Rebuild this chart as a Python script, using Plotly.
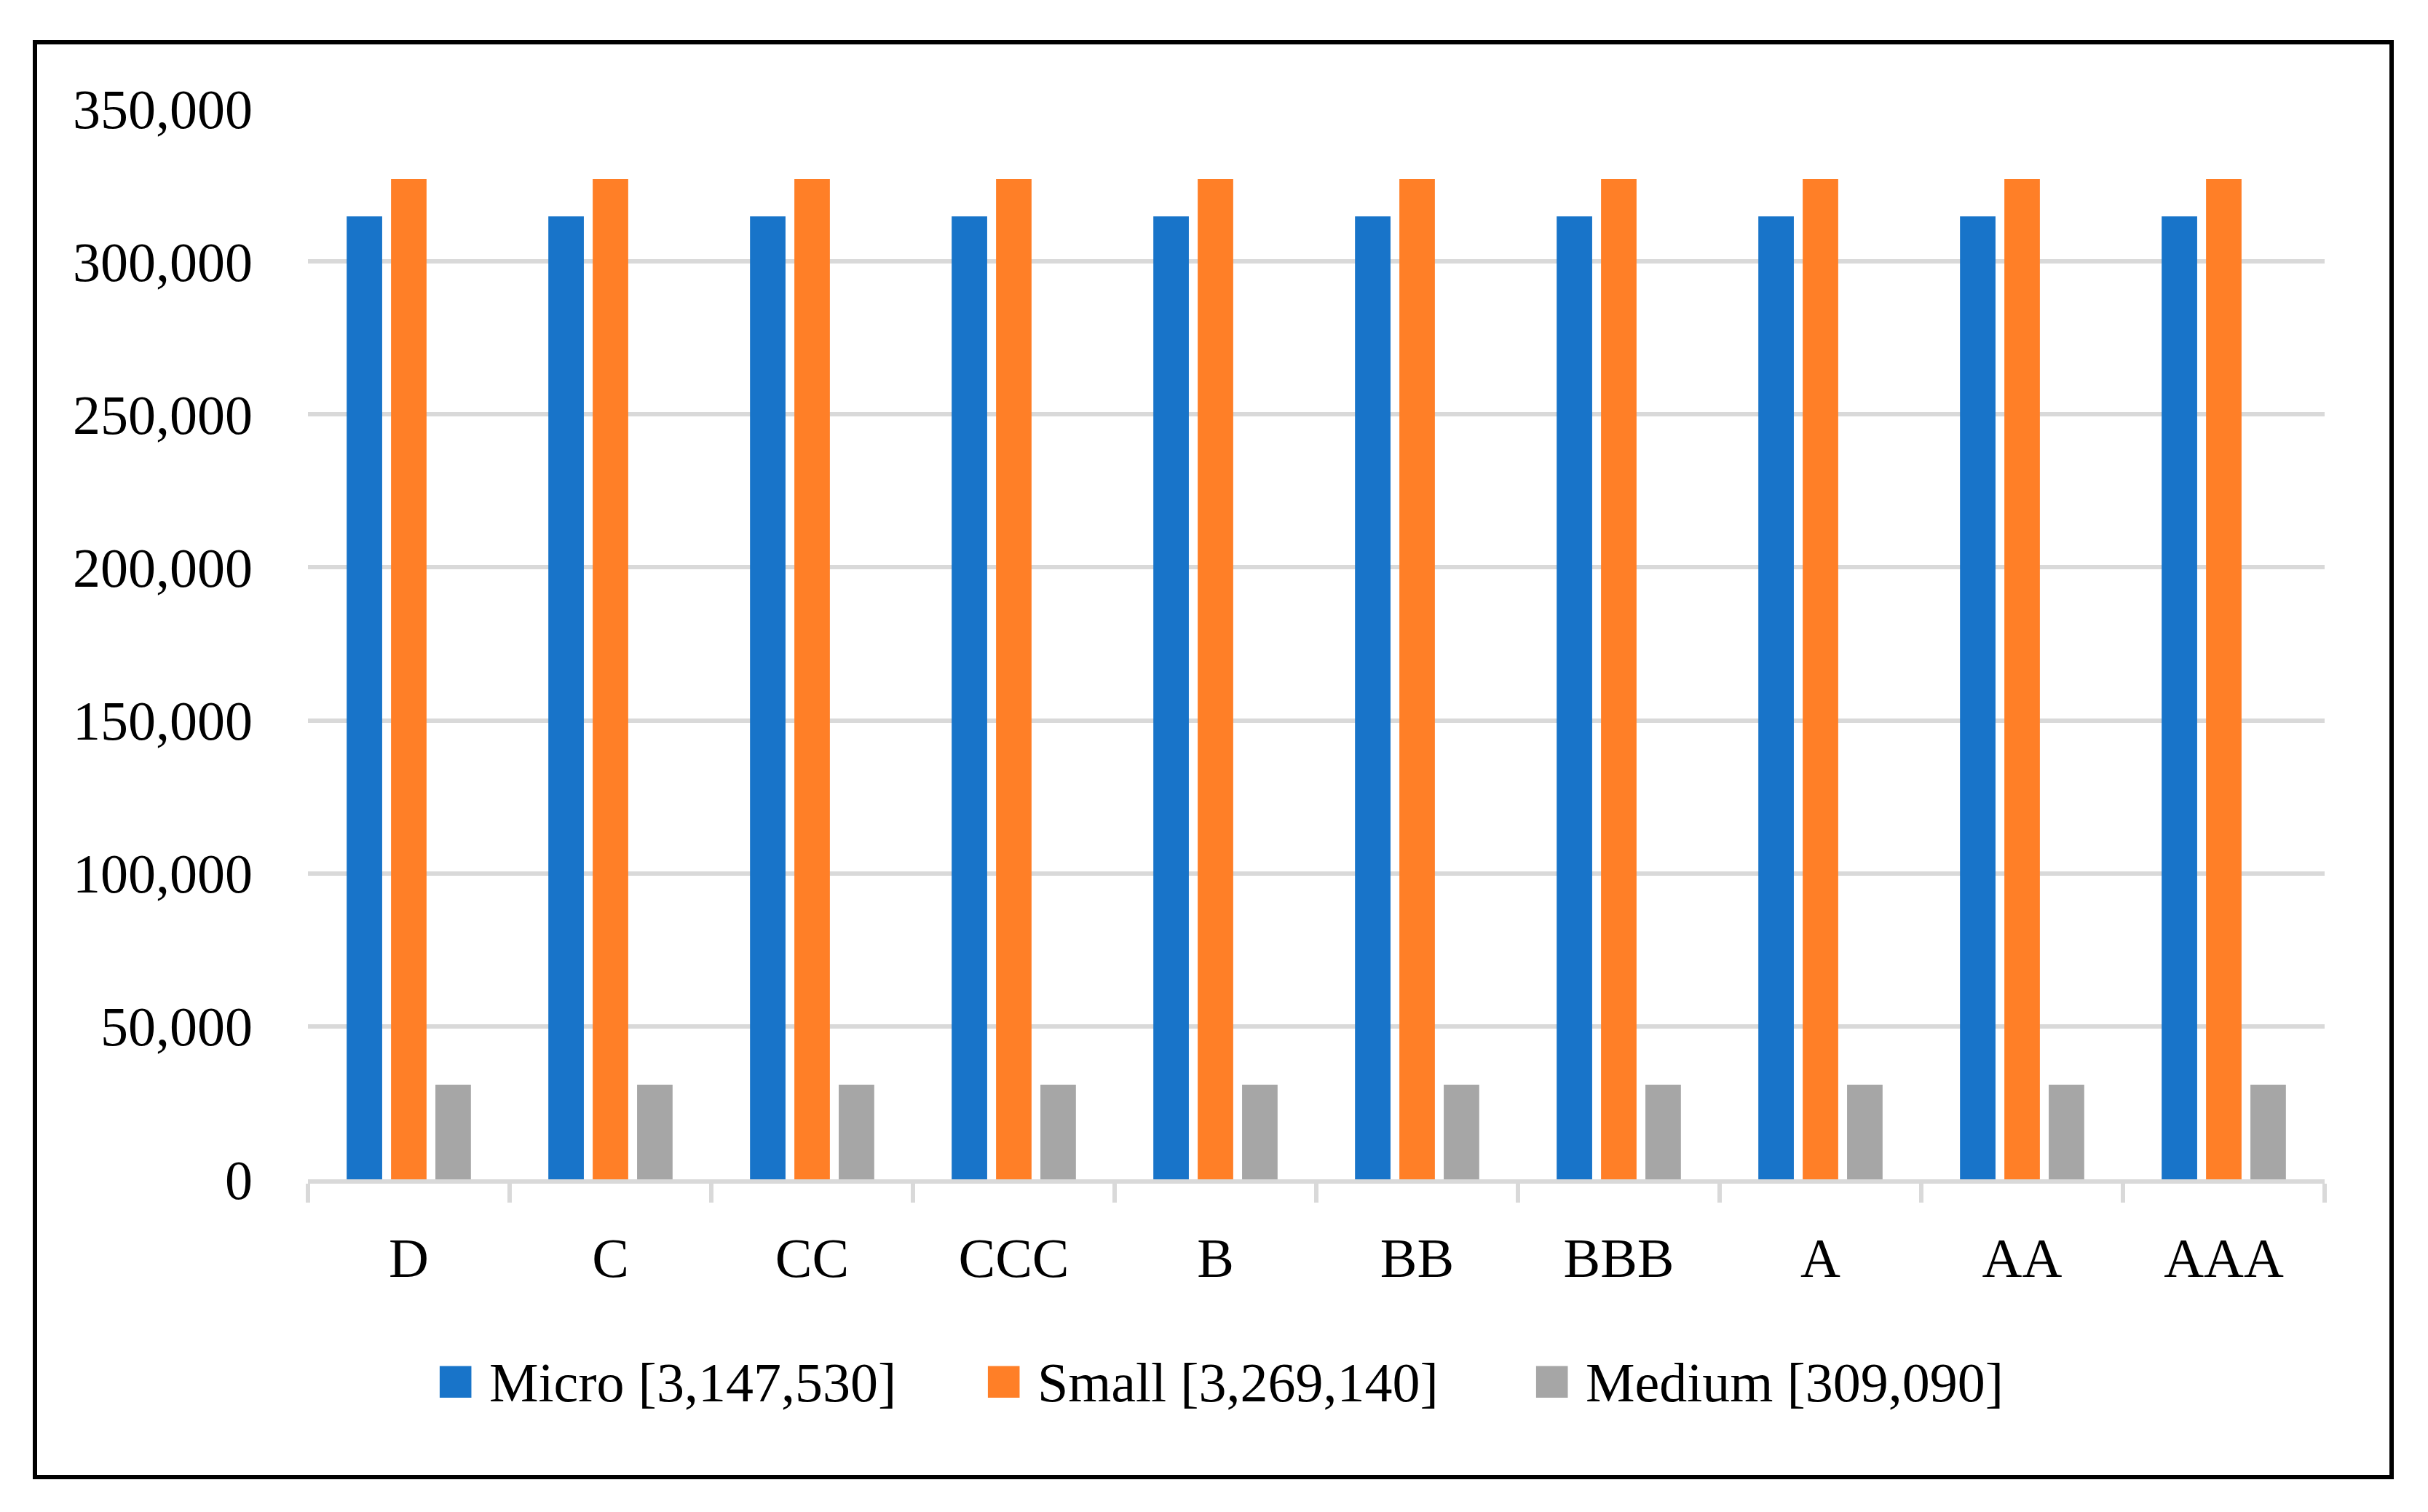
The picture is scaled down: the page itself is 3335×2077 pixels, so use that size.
import plotly.graph_objects as go

categories = ["D", "C", "CC", "CCC", "B", "BB", "BBB", "A", "AA", "AAA"]
micro = [314753, 314753, 314753, 314753, 314753, 314753, 314753, 314753, 314753, 314753]
small = [326914, 326914, 326914, 326914, 326914, 326914, 326914, 326914, 326914, 326914]
medium = [30909, 30909, 30909, 30909, 30909, 30909, 30909, 30909, 30909, 30909]
series_names = ["Micro [3,147,530]", "Small [3,269,140]", "Medium [309,090]"]
y_ticks = [0, 50000, 100000, 150000, 200000, 250000, 300000, 350000]

colors = ["#1874C9", "#FF7F27", "#A6A6A6"]
FONT = "Liberation Serif"
FS = 76

# page has an 8px body margin; figure is sized to fit inside it
OFF = 8
W, H = 3335 - 2 * OFF, 2077 - 2 * OFF
PX0, PX1, PY0, PY1 = 423 - OFF, 3193 - OFF, 149 - OFF, 1620 - OFF  # plot area in figure px
L, R, T, B = PX0, W - PX1, PY0, H - PY1
PW, PH = PX1 - PX0, PY1 - PY0

def px_x(x):
    return (x - OFF - PX0) / PW

def px_y(y):
    return (PY1 - (y - OFF)) / PH

fig = go.Figure()
for name, vals, col in zip(series_names, [micro, small, medium], colors):
    fig.add_trace(go.Bar(x=categories, y=vals, name=name, showlegend=False,
                         marker=dict(color=col, line=dict(width=0))))
# legend entries with a large coloured square (Excel-style)
for name, col in zip(series_names, colors):
    fig.add_trace(go.Scatter(x=[None], y=[None], mode="markers",
                             marker=dict(size=1, color="rgba(0,0,0,0)"),
                             name=f'<span style="color:{col};font-size:90px">■</span> {name}',
                             hoverinfo="skip"))

fig.update_layout(
    width=W, height=H,
    margin=dict(l=L, r=R, t=T, b=B, pad=0),
    paper_bgcolor="white", plot_bgcolor="white",
    barmode="group", bargap=0.34, bargroupgap=0.2,
    font=dict(family=FONT, size=FS, color="black"),
    showlegend=True,
    legend=dict(orientation="h", x=0.5 - (1808 - 1688) / 2770, xanchor="center",
                y=px_y(1895), yanchor="middle",
                font=dict(family=FONT, size=FS, color="black"),
                entrywidth=708, entrywidthmode="pixels", itemwidth=30,
                bgcolor="rgba(0,0,0,0)"),
    xaxis=dict(type="category", showgrid=False, showline=True, linecolor="#D9D9D9", linewidth=6,
               ticks="outside", tickson="boundaries", ticklen=26, tickwidth=6, tickcolor="#D9D9D9",
               ticklabelstandoff=37, tickfont=dict(family=FONT, size=FS, color="black"),
               zeroline=False, fixedrange=True),
    yaxis=dict(range=[0, 350000], tickvals=y_ticks, tickformat=",d", showgrid=True,
               gridcolor="#D9D9D9", gridwidth=6, showline=False, ticks="", zeroline=False,
               ticklabelstandoff=75, tickfont=dict(family=FONT, size=FS, color="black"),
               fixedrange=True),
    shapes=[dict(type="rect", xref="paper", yref="paper",
                 x0=px_x(48), x1=px_x(3285), y0=px_y(2029), y1=px_y(58),
                 line=dict(color="black", width=6), fillcolor="rgba(0,0,0,0)", layer="below")],
)

fig.write_html("out.html")
